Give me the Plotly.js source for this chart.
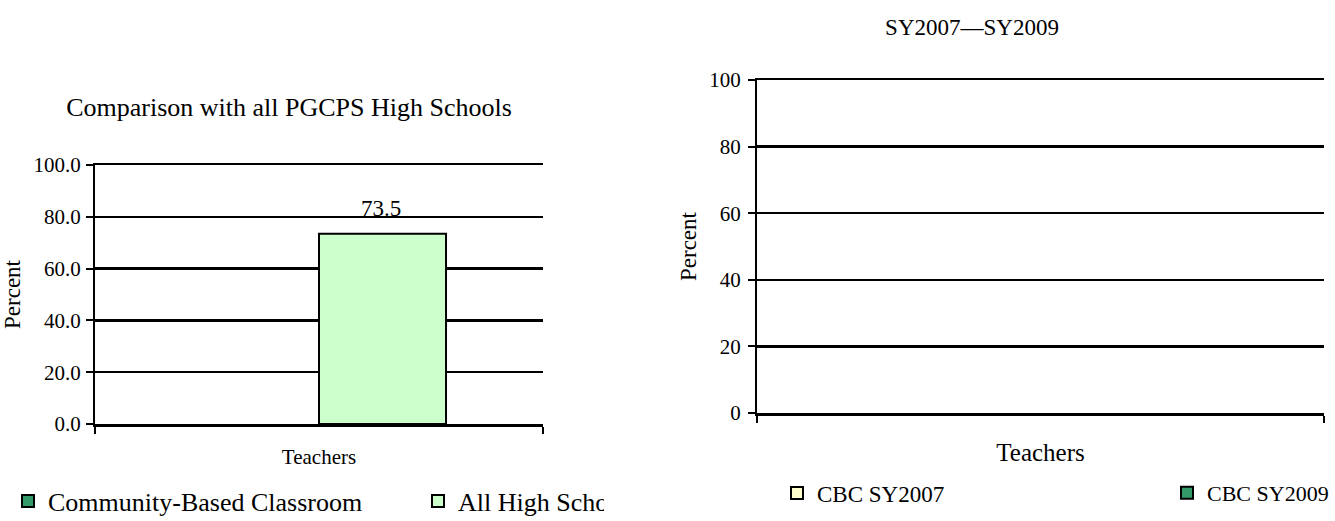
<!DOCTYPE html>
<html><head><meta charset="utf-8">
<script src="https://cdn.plot.ly/plotly-3.0.1.min.js"></script>
<style>
html,body{margin:0;padding:0;background:#fff;}
#wrap{position:relative;width:1335px;height:521px;overflow:hidden;background:#fff;}
#leftClip{position:absolute;left:0;top:0;width:604px;height:521px;overflow:hidden;}
#left{width:760px;height:521px;}
#right{position:absolute;left:566px;top:0;width:769px;height:521px;}
</style></head><body>
<div id="wrap"><div id="leftClip"><div id="left"></div></div><div id="right"></div></div>
<script>
// ---- data ----
const categories = ['Teachers'];
const leftSeriesNames = ['Community-Based Classroom', 'All High Schools'];
const cbcValues = [null];
const allHighValues = [73.5];
const leftTickVals = [0, 20, 40, 60, 80, 100];
const rightSeriesNames = ['CBC SY2007', 'CBC SY2009'];
const cbc2007Values = [null];
const cbc2009Values = [null];
const rightTickVals = [0, 20, 40, 60, 80, 100];

const FONT = "'Liberation Serif', 'Times New Roman', serif";
const DARK = '#339966', LIGHT = '#CCFFCC', CREAM = '#FFFFCC';

function axisY(ticks, fmt, fs, stand) {
  return {range: [0, 100], tickvals: ticks, tickformat: fmt, ticks: 'outside', ticklen: 7, tickwidth: 2,
    tickcolor: '#000', showline: true, linecolor: '#000', linewidth: 2, showgrid: true, gridcolor: '#000',
    gridwidth: 2.5, zeroline: false, tickfont: {size: fs, family: FONT}, ticklabelstandoff: stand, fixedrange: true};
}
function axisX(fs, stand) {
  return {type: 'category', range: [-0.5, 0.5], showline: true, mirror: true, linecolor: '#000', linewidth: 2.5,
    ticks: 'outside', tickson: 'boundaries', ticklen: 7, tickwidth: 2, tickcolor: '#000',
    tickfont: {size: fs, family: FONT}, ticklabelstandoff: stand, showgrid: false, zeroline: false, fixedrange: true};
}
const legendBase = {orientation: 'h', xanchor: 'left', yanchor: 'middle', bgcolor: 'rgba(0,0,0,0)',
  borderwidth: 0, visible: true};

// ---- left chart ----
const leftTraces = [
  {type: 'bar', x: categories, y: cbcValues, name: leftSeriesNames[0], legend: 'legend', showlegend: true,
   marker: {color: DARK, line: {color: '#000', width: 2}}, hoverinfo: 'none'},
  {type: 'bar', x: categories, y: allHighValues, name: leftSeriesNames[1], legend: 'legend2', showlegend: true,
   marker: {color: LIGHT, line: {color: '#000', width: 2}}, hoverinfo: 'none'}
];
const yL = axisY(leftTickVals, '.1f', 21, 1);
yL.title = {text: 'Percent', font: {size: 23, family: FONT}, standoff: 7};
const LPW = 448, LPH = 259;
const leftLayout = {
  width: 760, height: 521, margin: {l: 95, r: 217, t: 165, b: 97, pad: 0, autoexpand: false},
  showlegend: true,
  paper_bgcolor: 'rgba(0,0,0,0)', plot_bgcolor: 'rgba(0,0,0,0)', font: {family: FONT, color: '#000'},
  title: {text: 'Comparison with all PGCPS High Schools', font: {size: 26, family: FONT, color: '#000'},
    x: 289 / 760, xanchor: 'center', y: 1 - 107 / 521, yanchor: 'middle', xref: 'container', yref: 'container'},
  barmode: 'group', bargap: 0.433, bargroupgap: 0,
  xaxis: axisX(21, 12), yaxis: yL,
  legend: Object.assign({}, legendBase, {x: (8 - 95) / LPW, y: (424 - 501) / LPH, font: {size: 26, family: FONT}}),
  legend2: Object.assign({}, legendBase, {x: (418 - 95) / LPW, y: (424 - 501) / LPH, font: {size: 26, family: FONT}}),
  annotations: allHighValues.map((v, i) => ({x: categories[i], y: v, xref: 'x', yref: 'y',
    text: v.toFixed(1), showarrow: false, xshift: 62, yshift: 11, yanchor: 'bottom', font: {size: 23, family: FONT}}))
};

// ---- right chart ----
const rightTraces = [
  {type: 'bar', x: categories, y: cbc2007Values, name: rightSeriesNames[0], legend: 'legend', showlegend: true,
   marker: {color: CREAM, line: {color: '#000', width: 2}}, hoverinfo: 'none'},
  {type: 'bar', x: categories, y: cbc2009Values, name: rightSeriesNames[1], legend: 'legend2', showlegend: true,
   marker: {color: DARK, line: {color: '#000', width: 2}}, hoverinfo: 'none'}
];
const yR = axisY(rightTickVals, 'd', 21, 3);
yR.title = {text: 'Percent', font: {size: 23, family: FONT}, standoff: 6};
const RPW = 567, RPH = 333;
const rightLayout = {
  width: 769, height: 521, margin: {l: 191, r: 11, t: 80, b: 108, pad: 0, autoexpand: false},
  showlegend: true,
  paper_bgcolor: 'rgba(0,0,0,0)', plot_bgcolor: 'rgba(0,0,0,0)', font: {family: FONT, color: '#000'},
  title: {text: 'SY2007—SY2009', font: {size: 23, family: FONT, color: '#000'},
    x: (972 - 566) / 769, xanchor: 'center', y: 1 - 27 / 521, yanchor: 'middle', xref: 'container', yref: 'container'},
  barmode: 'group', bargap: 0.433, bargroupgap: 0,
  xaxis: axisX(25, 15), yaxis: yR,
  legend: Object.assign({}, legendBase, {x: (211 - 191) / RPW, y: (413 - 493) / RPH, font: {size: 23, family: FONT}}),
  legend2: Object.assign({}, legendBase, {x: (601 - 191) / RPW, y: (413 - 493) / RPH, font: {size: 22, family: FONT}})
};

const cfg = {staticPlot: true, displayModeBar: false};
Plotly.newPlot('left', leftTraces, leftLayout, cfg);
Plotly.newPlot('right', rightTraces, rightLayout, cfg);
</script>
</body></html>
